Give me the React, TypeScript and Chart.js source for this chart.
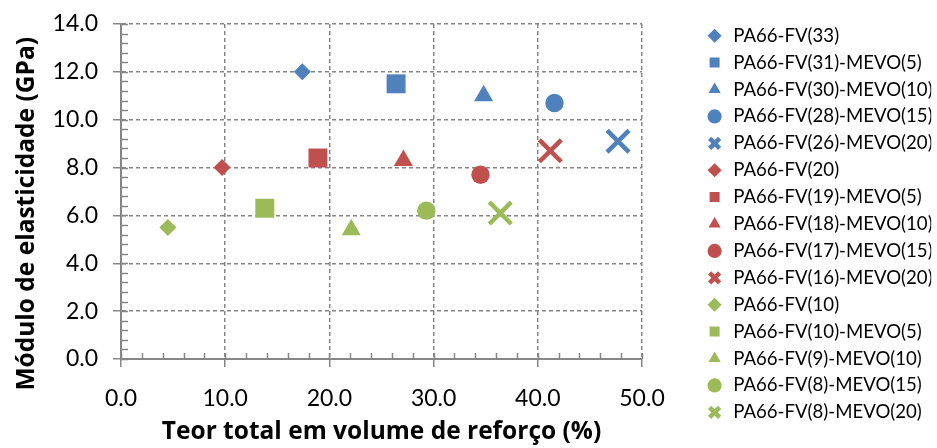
import React, { useEffect, useRef } from 'react';
import { Chart, registerables } from 'chart.js';

Chart.register(...registerables);

const seriesNames = [
  'PA66-FV(33)',
  'PA66-FV(31)-MEVO(5)',
  'PA66-FV(30)-MEVO(10)',
  'PA66-FV(28)-MEVO(15)',
  'PA66-FV(26)-MEVO(20)',
  'PA66-FV(20)',
  'PA66-FV(19)-MEVO(5)',
  'PA66-FV(18)-MEVO(10)',
  'PA66-FV(17)-MEVO(15)',
  'PA66-FV(16)-MEVO(20)',
  'PA66-FV(10)',
  'PA66-FV(10)-MEVO(5)',
  'PA66-FV(9)-MEVO(10)',
  'PA66-FV(8)-MEVO(15)',
  'PA66-FV(8)-MEVO(20)',
];

const xValues = [17.4, 26.4, 34.8, 41.6, 47.7, 9.7, 18.9, 27.1, 34.5, 41.2, 4.5, 13.8, 22.1, 29.3, 36.4];
const yValues = [12.0, 11.5, 11.0, 10.7, 9.1, 8.0, 8.4, 8.3, 7.7, 8.7, 5.5, 6.3, 5.4, 6.2, 6.1];

const BLUE = '#4F81BD';
const RED = '#C0504D';
const GREEN = '#9BBB59';
const seriesColors = [BLUE, BLUE, BLUE, BLUE, BLUE, RED, RED, RED, RED, RED, GREEN, GREEN, GREEN, GREEN, GREEN];
const markerCycle = ['rectRot', 'rect', 'triangle', 'circle', 'crossRot'];
const markerRadius: Record<string, number> = { rectRot: 8.5, rect: 13.4, triangle: 11, circle: 9.2, crossRot: 15.5 };

const xTicks = [0, 10, 20, 30, 40, 50];
const yTicks = [0, 2, 4, 6, 8, 10, 12, 14];
const xMinorStep = 2;
const yMinorStep = 0.4;

const xTitle = 'Teor total em volume de reforço (%)';
const yTitle = 'Módulo de elasticidade (GPa)';

const AXIS_GRAY = '#868686';
const FONT = 'Lato, "Open Sans", sans-serif';
const TITLE_FONT = '"Open Sans", Lato, sans-serif';

const minorTicksPlugin = {
  id: 'minorTicks',
  beforeDatasetsDraw(chart: any) {
    const ctx = chart.ctx;
    const xs = chart.scales.x;
    const ys = chart.scales.y;
    ctx.save();
    ctx.strokeStyle = AXIS_GRAY;
    ctx.lineWidth = 1.5;
    ctx.beginPath();
    const yPix0 = ys.getPixelForValue(ys.min);
    for (let v = xs.min; v <= xs.max + 1e-6; v += xMinorStep) {
      const px = Math.round(xs.getPixelForValue(v)) + 0.5;
      ctx.moveTo(px, yPix0);
      ctx.lineTo(px, yPix0 - 6);
    }
    const xPix0 = xs.getPixelForValue(xs.min);
    for (let v = ys.min; v <= ys.max + 1e-6; v += yMinorStep) {
      const py = Math.round(ys.getPixelForValue(v)) + 0.5;
      ctx.moveTo(xPix0, py);
      ctx.lineTo(xPix0 + 7, py);
    }
    ctx.stroke();
    ctx.restore();
  },
};

const legendShiftPlugin = {
  id: 'legendShift',
  afterLayout(chart: any) {
    const l = chart.legend;
    if (l) {
      l.left += 55;
      l.right += 55;
    }
  },
};

export default function App() {
  const canvasRef = useRef<HTMLCanvasElement | null>(null);

  useEffect(() => {
    if (!canvasRef.current) return;
    const datasets = seriesNames.map((name, i) => {
      const style = markerCycle[i % markerCycle.length];
      const isCross = style === 'crossRot';
      return {
        label: name,
        data: [{ x: xValues[i], y: yValues[i] }],
        pointStyle: style,
        pointRadius: markerRadius[style],
        pointBackgroundColor: seriesColors[i],
        pointBorderColor: seriesColors[i],
        pointBorderWidth: isCross ? 4.5 : 0,
        backgroundColor: seriesColors[i],
        borderColor: seriesColors[i],
        borderWidth: isCross ? 4.5 : 0,
      };
    });

    const chart = new Chart(canvasRef.current, {
      type: 'scatter',
      data: { datasets },
      plugins: [minorTicksPlugin, legendShiftPlugin],
      options: {
        animation: false,
        responsive: false,
        events: [],
        layout: { padding: { top: 0, right: 0, bottom: 0, left: 0 } },
        plugins: {
          tooltip: { enabled: false },
          legend: {
            position: 'right',
            labels: {
              usePointStyle: true,
              boxHeight: 10,
              padding: 8.3,
              color: '#000',
              font: { family: FONT, size: 18.6 },
            },
          },
        },
        scales: {
          x: {
            type: 'linear',
            min: xTicks[0],
            max: xTicks[xTicks.length - 1],
            afterBuildTicks: (s: any) => {
              s.ticks = xTicks.map((v) => ({ value: v }));
            },
            afterFit: (s: any) => {
              s.height = 89;
              s.paddingRight = 295;
            },
            ticks: {
              color: '#000',
              font: { family: FONT, size: 23 },
              padding: 18,
              callback: (v: any) => Number(v).toFixed(1),
            },
            grid: { color: AXIS_GRAY, lineWidth: 1.5, tickLength: 8, tickColor: AXIS_GRAY, tickWidth: 1.5 },
            border: { color: AXIS_GRAY, width: 2, dash: [4, 3] },
            title: {
              display: true,
              text: xTitle,
              color: '#000',
              font: { family: TITLE_FONT, size: 24.5, weight: 'bold' },
              padding: { top: 2, bottom: 1 },
            },
          },
          y: {
            type: 'linear',
            min: yTicks[0],
            max: yTicks[yTicks.length - 1],
            afterBuildTicks: (s: any) => {
              s.ticks = yTicks.map((v) => ({ value: v }));
            },
            afterFit: (s: any) => {
              s.width = 121;
              s.paddingTop = 24;
            },
            ticks: {
              color: '#000',
              font: { family: FONT, size: 23 },
              padding: 15,
              callback: (v: any) => Number(v).toFixed(1),
            },
            grid: { color: AXIS_GRAY, lineWidth: 1.5, tickLength: 8, tickColor: AXIS_GRAY, tickWidth: 1.5 },
            border: { color: AXIS_GRAY, width: 2, dash: [4, 3] },
            title: {
              display: true,
              text: yTitle + '       ',
              color: '#000',
              font: { family: TITLE_FONT, size: 24.5, weight: 'bold' },
              padding: { top: 12, bottom: 2 },
            },
          },
        },
      } as any,
    });
    return () => chart.destroy();
  }, []);

  return (
    <div style={{ position: 'absolute', left: 0, top: 0, width: 937, height: 448 }}>
      <canvas ref={canvasRef} width={937} height={448} style={{ display: 'block' }} />
    </div>
  );
}
